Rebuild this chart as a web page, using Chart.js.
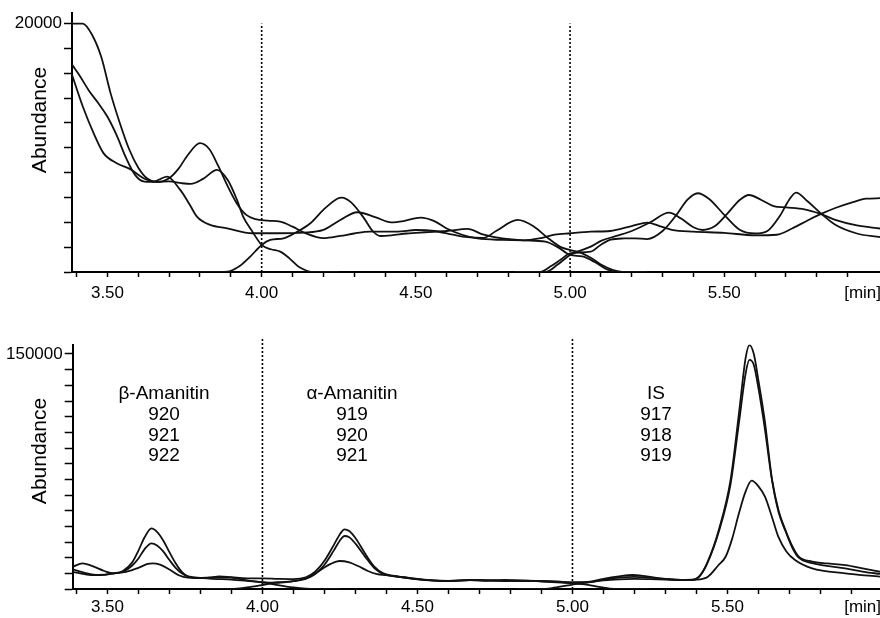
<!DOCTYPE html>
<html>
<head>
<meta charset="utf-8">
<script src="https://cdn.jsdelivr.net/npm/chart.js@4.4.1/dist/chart.umd.min.js"></script>
<style>
  body { margin: 0; background: #fff; }
  #wrap { position: relative; width: 880px; height: 618px; overflow: hidden; }
  #top-chart { position: absolute; left: 0; top: 0; }
  #bottom-chart { position: absolute; left: 0; top: 310px; }
</style>
</head>
<body>
<div id="wrap">
  <canvas id="top-chart" width="880" height="310"></canvas>
  <canvas id="bottom-chart" width="880" height="308"></canvas>
</div>
<script>
// tick values (minutes) and which of them get a label
const xTicks = [3.4, 3.5, 3.6, 3.7, 3.8, 3.9, 4.0, 4.1, 4.2, 4.3, 4.4, 4.5, 4.6, 4.7, 4.8, 4.9, 5.0, 5.1, 5.2, 5.3, 5.4, 5.5, 5.6, 5.7, 5.8, 5.9];
const xLabelled = [3.5, 4.0, 4.5, 5.0, 5.5];
const segmentBreaks = [4.0, 5.0];

const topYTicks = [0, 2000, 4000, 6000, 8000, 10000, 12000, 14000, 16000, 18000, 20000];
const bottomYTicks = [0, 10000, 20000, 30000, 40000, 50000, 60000, 70000, 80000, 90000, 100000, 110000, 120000, 130000, 140000, 150000];

// upper panel traces [min, abundance]
const topA = [[3.385,20000],[3.42,20000],[3.45,19100],[3.48,17300],[3.51,14400],[3.54,12000],[3.57,9900],[3.60,8400],[3.63,7500],[3.66,7250],[3.70,7550],[3.73,8300],[3.76,9400],[3.80,10370],[3.83,9900],[3.86,8500],[3.89,6900],[3.92,5500],[3.95,4600],[3.98,4250],[4.02,4130],[4.06,4050],[4.10,3650],[4.14,3150],[4.20,2720],[4.255,2900],[4.30,3100],[4.35,3250],[4.44,3250],[4.50,3380],[4.56,3300],[4.62,3000],[4.667,2800],[4.72,2750],[4.76,3300],[4.83,4190],[4.88,3700],[4.93,2700],[4.97,2000],[5.00,1770],[5.03,1600],[5.07,1100],[5.10,600],[5.14,150],[5.17,0],[5.25,0]];
const topB = [[3.385,16700],[3.41,15800],[3.44,14600],[3.47,13600],[3.50,12500],[3.53,11000],[3.56,9200],[3.59,7800],[3.62,7280],[3.66,7250],[3.70,7300],[3.74,7150],[3.77,7090],[3.81,7500],[3.855,8220],[3.89,7400],[3.92,5800],[3.94,4460],[3.97,3250],[4.00,2176],[4.03,1830],[4.06,1640],[4.09,1100],[4.12,430],[4.17,0],[4.25,0]];
const topC = [[3.385,15880],[3.42,13320],[3.455,11180],[3.487,9570],[3.53,8760],[3.574,8280],[3.617,7550],[3.65,7280],[3.693,7680],[3.736,6610],[3.765,5500],[3.79,4460],[3.833,3790],[3.888,3520],[3.969,3120],[4.05,3120],[4.137,3170],[4.20,3385],[4.255,4190],[4.31,4810],[4.37,4400],[4.42,4000],[4.46,4100],[4.515,4380],[4.56,4100],[4.60,3500],[4.65,3000],[4.70,2700],[4.78,2580],[4.85,2550],[4.90,2700],[4.95,3000],[5.00,3120],[5.067,3250],[5.13,3300],[5.20,3700],[5.251,3980],[5.29,3700],[5.33,3400],[5.40,3250],[5.50,3150],[5.60,2950],[5.67,3000],[5.72,3500],[5.77,4150],[5.814,4675],[5.86,5150],[5.92,5650],[5.96,5900],[6.005,5940]];
const topD = [[3.80,0],[3.86,0],[3.89,30],[3.93,500],[3.963,1240],[4.00,2176],[4.028,2580],[4.071,2716],[4.116,3250],[4.158,3925],[4.20,5000],[4.245,5900],[4.26,5990],[4.29,5600],[4.33,4400],[4.36,3300],[4.385,2900],[4.42,2950],[4.47,3100],[4.53,3200],[4.60,3300],[4.667,3470],[4.72,3000],[4.78,2700],[4.85,2550],[4.92,2450],[4.96,2000],[5.00,1370],[5.04,1250],[5.08,800],[5.12,200],[5.16,0],[5.25,0]];
const topE = [[4.82,0],[4.90,0],[4.94,500],[4.97,1000],[5.00,1500],[5.067,1640],[5.10,2200],[5.132,2600],[5.175,2700],[5.21,2710],[5.25,2650],[5.30,3300],[5.348,4700],[5.38,5800],[5.414,6340],[5.45,5900],[5.50,4600],[5.55,3400],[5.60,3100],[5.64,3300],[5.68,4500],[5.71,5800],[5.733,6390],[5.77,5700],[5.814,4700],[5.86,3800],[5.93,3100],[6.005,2800]];
const topF = [[4.84,0],[4.92,0],[4.96,600],[5.00,1370],[5.067,2040],[5.10,2500],[5.15,2900],[5.20,3300],[5.26,4000],[5.321,4780],[5.36,4300],[5.40,3600],[5.43,3380],[5.47,3700],[5.51,4700],[5.55,5800],[5.58,6200],[5.62,5800],[5.66,5300],[5.70,5200],[5.76,5050],[5.81,4700],[5.86,4200],[5.93,3750],[6.005,3500]];

// lower panel traces [min, abundance]
const botA = [[3.388,12500],[3.43,10200],[3.47,9000],[3.52,10000],[3.55,11500],[3.58,17000],[3.60,24500],[3.62,33000],[3.642,38740],[3.66,36500],[3.68,31000],[3.70,23500],[3.72,16500],[3.74,11000],[3.76,8000],[3.79,7000],[3.83,7200],[3.86,8000],[3.90,7500],[3.95,6800],[4.00,6830],[4.05,6500],[4.10,6300],[4.14,7500],[4.17,11000],[4.20,18000],[4.23,28000],[4.25,35000],[4.265,38100],[4.28,37000],[4.30,32500],[4.33,23000],[4.36,14500],[4.39,10000],[4.42,8500],[4.46,7500],[4.50,6500],[4.55,5500],[4.60,5200],[4.65,5500],[4.70,5800],[4.75,5600],[4.80,5200],[4.85,5000],[4.90,5200],[4.95,4800],[5.00,3600],[5.04,3000],[5.08,1500],[5.12,300],[5.15,0],[5.25,0]];
const botB = [[3.388,14200],[3.42,16400],[3.45,14800],[3.49,11500],[3.52,10000],[3.55,11000],[3.58,15000],[3.60,19500],[3.62,25500],[3.642,29170],[3.66,27800],[3.68,24000],[3.70,18500],[3.72,13500],[3.74,10000],[3.76,8000],[3.79,7200],[3.84,6500],[3.90,6000],[3.95,5200],[4.00,4260],[4.05,4000],[4.10,5000],[4.14,6500],[4.17,9500],[4.20,15500],[4.23,24500],[4.25,31000],[4.265,33830],[4.28,33000],[4.30,29000],[4.33,21000],[4.36,13500],[4.39,9500],[4.42,8300],[4.46,7300],[4.50,6300],[4.55,5500],[4.60,5000],[4.67,5700],[4.72,5200],[4.78,5800],[4.85,5400],[4.90,5000],[4.95,4600],[5.00,4300],[5.05,4600],[5.10,6500],[5.15,8000],[5.193,8940],[5.24,8000],[5.30,6500],[5.35,5800],[5.39,6000],[5.408,7850],[5.434,16400],[5.472,37660],[5.51,69600],[5.537,112000],[5.559,148000],[5.571,155700],[5.585,150000],[5.60,133000],[5.62,108000],[5.644,69600],[5.665,50000],[5.687,37660],[5.71,27000],[5.73,20600],[5.773,17500],[5.82,16300],[5.88,15300],[5.94,13000],[5.992,11000]];
const botC = [[3.388,11000],[3.44,9000],[3.48,8800],[3.52,10000],[3.56,11000],[3.60,13500],[3.63,16000],[3.645,16400],[3.67,15500],[3.70,12500],[3.73,8800],[3.76,7200],[3.79,7000],[3.85,7500],[3.90,7200],[3.95,5500],[4.00,4300],[4.05,2500],[4.10,1000],[4.14,200],[4.17,0],[4.25,0]];
const botD = [[3.82,0],[3.90,0],[3.95,1000],[4.00,2550],[4.05,4300],[4.10,5000],[4.15,7500],[4.19,12500],[4.22,16000],[4.249,17870],[4.28,17000],[4.31,14500],[4.34,11500],[4.37,9500],[4.40,8900],[4.45,7500],[4.50,6200],[4.55,5400],[4.60,5200],[4.667,5740],[4.72,5300],[4.78,5100],[4.85,5300],[4.90,4800],[4.95,4300],[5.00,3900],[5.05,4300],[5.10,5800],[5.15,7200],[5.20,7800],[5.25,7200],[5.30,6300],[5.35,5800],[5.39,5900],[5.408,7600],[5.434,16000],[5.472,36500],[5.51,67000],[5.537,106000],[5.559,138000],[5.571,146200],[5.585,143000],[5.60,128000],[5.62,103000],[5.644,69000],[5.665,49000],[5.687,37000],[5.71,26000],[5.73,20000],[5.773,16500],[5.82,14800],[5.88,13200],[5.94,11000],[5.992,9600]];
const botE = [[4.82,0],[4.90,0],[4.94,800],[4.97,1800],[5.00,2800],[5.05,4200],[5.10,5500],[5.15,6200],[5.20,6500],[5.25,6300],[5.30,6000],[5.35,5800],[5.40,6000],[5.437,7850],[5.47,15000],[5.494,20600],[5.515,32000],[5.537,48300],[5.558,62000],[5.578,69130],[5.60,65500],[5.621,58900],[5.645,45000],[5.664,33400],[5.69,24000],[5.718,18500],[5.773,13200],[5.88,10000],[5.992,7850]];

// peak annotations
const groupNames = ['β-Amanitin', 'α-Amanitin', 'IS'];
const groupIons = [['920', '921', '922'], ['919', '920', '921'], ['917', '918', '919']];

const FONT = "'Liberation Sans', Arial, Helvetica, sans-serif";
Chart.defaults.font.family = FONT;
Chart.defaults.color = '#000';

function toPoints(arr) {
  return arr.map(p => ({ x: p[0], y: p[1] }));
}

function notesPlugin(draw) {
  return {
    id: 'notes',
    afterDraw(chart) {
      const ctx = chart.ctx;
      ctx.save();
      ctx.fillStyle = '#000';
      draw(ctx, chart);
      ctx.restore();
    }
  };
}

function drawAxisTitle(ctx, cy) {
  ctx.save();
  ctx.translate(40, cy);
  ctx.rotate(-Math.PI / 2);
  ctx.font = '21px ' + FONT;
  ctx.textAlign = 'center';
  ctx.textBaseline = 'middle';
  ctx.fillText('Abundance', 0, 0);
  ctx.restore();
}

function drawUnit(ctx, cy) {
  ctx.font = '17px ' + FONT;
  ctx.textAlign = 'right';
  ctx.textBaseline = 'middle';
  ctx.fillText('[min]', 881, cy);
}

function buildChart(id, cfg) {
  const datasets = cfg.traces.map(tr => ({
    data: toPoints(tr),
    borderColor: '#111',
    borderWidth: 1.8,
    pointRadius: 0,
    cubicInterpolationMode: 'monotone',
    fill: false
  }));

  // dotted segment separators
  segmentBreaks.forEach(x => {
    datasets.push({
      data: [{ x: x, y: 0 }, { x: x, y: cfg.breakTop }],
      borderColor: '#000',
      borderWidth: 1.6,
      borderDash: [2, 2],
      pointRadius: 0,
      clip: false
    });
  });

  return new Chart(document.getElementById(id), {
    type: 'line',
    data: { datasets },
    options: {
      responsive: false,
      animation: false,
      events: [],
      layout: { padding: { top: cfg.padTop, left: 0, right: 0, bottom: 0 } },
      plugins: {
        legend: { display: false },
        tooltip: { enabled: false }
      },
      scales: {
        x: {
          type: 'linear',
          min: cfg.xMin,
          max: cfg.xMax,
          afterBuildTicks: s => { s.ticks = xTicks.map(v => ({ value: v })); },
          afterFit: s => { s.height = cfg.xHeight; },
          ticks: {
            autoSkip: false,
            maxRotation: 0,
            padding: cfg.xPad,
            font: { size: 17 },
            color: '#000',
            callback: v => xLabelled.some(l => Math.abs(l - v) < 1e-6) ? v.toFixed(2) : ''
          },
          grid: { drawOnChartArea: false, tickLength: 5, tickWidth: 1.5, color: '#000' },
          border: { color: '#000', width: 2 }
        },
        y: {
          min: 0,
          max: cfg.yMax,
          afterBuildTicks: s => { s.ticks = cfg.yTicks.map(v => ({ value: v })); },
          afterFit: s => { s.width = cfg.yWidth; },
          ticks: {
            autoSkip: false,
            padding: 2,
            font: { size: 17 },
            color: '#000',
            callback: v => v === cfg.yTicks[cfg.yTicks.length - 1] ? String(v) : ''
          },
          grid: { drawOnChartArea: false, tickLength: 8, tickWidth: 1.5, color: '#000' },
          border: { color: '#000', width: 2 }
        }
      }
    },
    plugins: [notesPlugin(cfg.notes)]
  });
}

buildChart('top-chart', {
  traces: [topA, topB, topC, topD, topE, topF],
  xMin: 3.385, xMax: 6.005,
  yMax: 20850, yTicks: topYTicks,
  breakTop: 20000,
  padTop: 13, xHeight: 38, xPad: 6, yWidth: 72,
  notes: (ctx) => {
    drawAxisTitle(ctx, 120);
    drawUnit(ctx, 293);
  }
});

buildChart('bottom-chart', {
  traces: [botA, botB, botC, botD, botE],
  xMin: 3.388, xMax: 5.992,
  yMax: 156000, yTicks: bottomYTicks,
  breakTop: 160000,
  padTop: 34.6, xHeight: 29, xPad: 3, yWidth: 72.7,
  notes: (ctx) => {
    drawAxisTitle(ctx, 141);
    drawUnit(ctx, 297);
    const centers = [164, 352, 656];
    ctx.font = '19px ' + FONT;
    ctx.textAlign = 'center';
    ctx.textBaseline = 'middle';
    groupNames.forEach((name, i) => {
      ctx.fillText(name, centers[i], 84);
      groupIons[i].forEach((ion, j) => ctx.fillText(ion, centers[i], 105 + j * 20.5));
    });
  }
});
</script>
</body>
</html>
